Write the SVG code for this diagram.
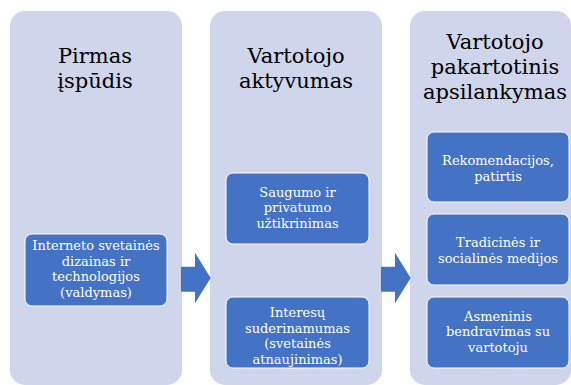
<svg xmlns="http://www.w3.org/2000/svg" width="571" height="385" viewBox="0 0 571 385">
<style>
.panel{fill:#CFD5EA;}
.box{fill:#4472C4;stroke:#FFFFFF;stroke-width:1;}
.arrow{fill:#4472C4;}
.title{font-family:"DejaVu Serif","Liberation Serif",serif;font-size:21px;fill:#000000;text-anchor:middle;}
.lbl{font-family:"DejaVu Serif","Liberation Serif",serif;font-size:13px;fill:#FFFFFF;text-anchor:middle;}
</style>
<rect width="571" height="385" fill="#FFFFFF"/>
<g id="panel1">
<rect class="panel" x="10" y="11" width="172" height="374" rx="15"/>
<text class="title"><tspan x="95" y="63">Pirmas</tspan><tspan x="95" y="88">įspūdis</tspan></text>
</g>
<g id="panel2">
<rect class="panel" x="210" y="11" width="172" height="374" rx="15"/>
<text class="title"><tspan x="296" y="63">Vartotojo</tspan><tspan x="296" y="88">aktyvumas</tspan></text>
</g>
<g id="panel3">
<rect class="panel" x="410" y="11" width="161" height="374" rx="15"/>
<text class="title"><tspan x="495" y="49">Vartotojo</tspan><tspan x="495" y="74">pakartotinis</tspan><tspan x="495" y="99">apsilankymas</tspan></text>
</g>
<g id="box1">
<rect class="box" x="25" y="234" width="142" height="72" rx="7"/>
<text class="lbl"><tspan x="96" y="250">Interneto svetainės</tspan><tspan x="96" y="265.5">dizainas ir</tspan><tspan x="96" y="281">technologijos</tspan><tspan x="96" y="296.5">(valdymas)</tspan></text>
</g>
<g id="box2a">
<rect class="box" x="226" y="173" width="143" height="71" rx="7"/>
<text class="lbl"><tspan x="297.5" y="196.5">Saugumo ir</tspan><tspan x="297.5" y="212">privatumo</tspan><tspan x="297.5" y="227.5">užtikrinimas</tspan></text>
</g>
<g id="box2b">
<rect class="box" x="226" y="297" width="143" height="71" rx="7"/>
<text class="lbl"><tspan x="297.5" y="317">Interesų</tspan><tspan x="297.5" y="332.5">suderinamumas</tspan><tspan x="297.5" y="348">(svetainės</tspan><tspan x="297.5" y="363.5">atnaujinimas)</tspan></text>
</g>
<g id="box3a">
<rect class="box" x="427" y="132" width="142" height="70" rx="7"/>
<text class="lbl"><tspan x="498" y="165">Rekomendacijos,</tspan><tspan x="498" y="180.5">patirtis</tspan></text>
</g>
<g id="box3b">
<rect class="box" x="427" y="214" width="142" height="71" rx="7"/>
<text class="lbl"><tspan x="498" y="247">Tradicinės ir</tspan><tspan x="498" y="262.5">socialinės medijos</tspan></text>
</g>
<g id="box3c">
<rect class="box" x="427" y="297" width="142" height="71" rx="7"/>
<text class="lbl"><tspan x="498" y="320.5">Asmeninis</tspan><tspan x="498" y="336">bendravimas su</tspan><tspan x="498" y="351.5">vartotoju</tspan></text>
</g>
<g id="connectors">
<polygon class="arrow" points="181,266.7 195,266.7 195,252.7 210.7,278 195,303.3 195,291.7 181,291.7"/>
<polygon class="arrow" points="381,266.7 395,266.7 395,252.7 410.7,278 395,303.3 395,291.7 381,291.7"/>
</g>
</svg>
